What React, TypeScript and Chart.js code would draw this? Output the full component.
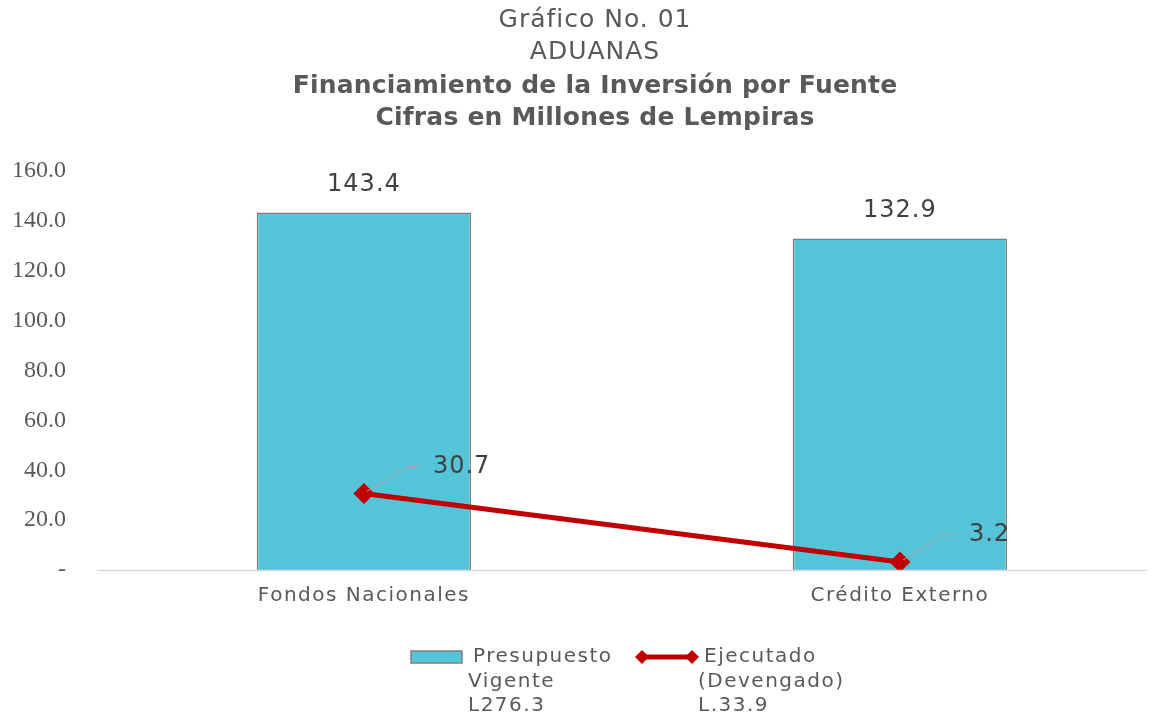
import React, { useEffect, useRef } from "react";
import { Chart, registerables } from "chart.js";

Chart.register(...registerables);

const categories = ["Fondos Nacionales", "Crédito Externo"];
const presupuesto = [143.4, 132.9];
const ejecutado = [30.7, 3.2];
const yTicks = [0, 20, 40, 60, 80, 100, 120, 140, 160];
const titleLines = [
  "Gráfico No. 01",
  "ADUANAS",
  "Financiamiento de la Inversión por Fuente",
  "Cifras en Millones de Lempiras",
];
const legendBar = ["Presupuesto", "Vigente", "L276.3"];
const legendLine = ["Ejecutado", "(Devengado)", "L.33.9"];

const FONT = "'DejaVu Sans', sans-serif";
const GRAY = "#595959";
const DARK = "#404040";
const CYAN = "#56C4D8";
const RED = "#C00000";

const overlay = {
  id: "overlay",
  afterDraw(chart: any) {
    const ctx = chart.ctx;
    const xs = chart.scales.x;
    const ys = chart.scales.y;
    ctx.save();
    // title
    ctx.fillStyle = GRAY;
    ctx.textAlign = "center";
    ctx.textBaseline = "middle";
    const ty = [20, 52, 86, 118];
    titleLines.forEach((t, i) => {
      ctx.font = (i >= 2 ? "bold " : "") + "25px " + FONT;
      ctx.letterSpacing = i >= 2 ? "0.2px" : "1px";
      ctx.fillText(t, 595, ty[i]);
    });
    // baseline
    ctx.strokeStyle = "#D9D9D9";
    ctx.lineWidth = 1.5;
    ctx.beginPath();
    ctx.moveTo(chart.chartArea.left, ys.getPixelForValue(0) + 0.5);
    ctx.lineTo(chart.chartArea.right, ys.getPixelForValue(0) + 0.5);
    ctx.stroke();
    // category labels
    ctx.fillStyle = GRAY;
    ctx.font = "20px " + FONT;
    ctx.letterSpacing = "1.5px";
    categories.forEach((c, i) => {
      ctx.fillText(c, xs.getPixelForValue(i), 596);
    });
    // bar labels
    ctx.fillStyle = DARK;
    ctx.font = "24px " + FONT;
    ctx.letterSpacing = "1px";
    presupuesto.forEach((v, i) => {
      ctx.fillText(v.toFixed(1), xs.getPixelForValue(i), ys.getPixelForValue(v) - 28);
    });
    // line labels with leader lines
    ejecutado.forEach((v, i) => {
      const px = xs.getPixelForValue(i);
      const py = ys.getPixelForValue(v);
      ctx.strokeStyle = "#A6A6A6";
      ctx.lineWidth = 1;
      ctx.beginPath();
      ctx.moveTo(px + 3, py - 2);
      ctx.lineTo(px + 44, py - 27);
      ctx.lineTo(px + 55, py - 27);
      ctx.stroke();
      ctx.fillStyle = DARK;
      ctx.textAlign = "left";
      ctx.fillText(v.toFixed(1), px + 69, py - 27);
    });
    // legend
    ctx.font = "20px " + FONT;
    ctx.letterSpacing = "1.5px";
    ctx.fillStyle = CYAN;
    ctx.fillRect(411, 651, 51, 12);
    ctx.strokeStyle = "#7F7F7F";
    ctx.lineWidth = 1.5;
    ctx.strokeRect(411, 651, 51, 12);
    ctx.fillStyle = GRAY;
    ctx.textAlign = "left";
    ctx.fillText(legendBar[0], 473, 657);
    ctx.fillText(legendBar[1], 468, 682);
    ctx.fillText(legendBar[2], 468, 706);
    ctx.strokeStyle = RED;
    ctx.lineWidth = 5;
    ctx.beginPath();
    ctx.moveTo(642, 657);
    ctx.lineTo(692, 657);
    ctx.stroke();
    ctx.fillStyle = RED;
    [642, 692].forEach((cx) => {
      ctx.beginPath();
      ctx.moveTo(cx - 7, 657);
      ctx.lineTo(cx, 650);
      ctx.lineTo(cx + 7, 657);
      ctx.lineTo(cx, 664);
      ctx.closePath();
      ctx.fill();
    });
    ctx.fillStyle = GRAY;
    ctx.fillText(legendLine[0], 704, 657);
    ctx.fillText(legendLine[1], 698, 682);
    ctx.fillText(legendLine[2], 698, 706);
    ctx.letterSpacing = "0px";
    ctx.restore();
  },
};

export default function App() {
  const ref = useRef<HTMLCanvasElement>(null);
  useEffect(() => {
    if (!ref.current) return;
    const chart = new Chart(ref.current, {
      type: "bar",
      data: {
        datasets: [
          {
            type: "bar",
            label: "Presupuesto Vigente",
            data: presupuesto.map((v, i) => ({ x: i, y: v })),
            backgroundColor: CYAN,
            borderColor: "#7F7F7F",
            borderWidth: 1.5,
            barPercentage: 0.4,
            categoryPercentage: 1,
            order: 2,
          },
          {
            type: "line",
            label: "Ejecutado (Devengado)",
            data: ejecutado.map((v, i) => ({ x: i, y: v })),
            borderColor: RED,
            backgroundColor: RED,
            borderWidth: 5,
            pointStyle: "rectRot",
            pointRadius: 7,
            pointHoverRadius: 7,
            order: 1,
          },
        ],
      } as any,
      options: {
        animation: false,
        responsive: false,
        maintainAspectRatio: false,
        layout: { padding: { top: 171, right: 14, bottom: 0, left: 0 } },
        plugins: { legend: { display: false }, title: { display: false }, tooltip: { enabled: false } },
        scales: {
          x: {
            type: "linear",
            offset: false,
            bounds: "data",
            min: -0.498,
            max: 1.461,
            grid: { display: false, drawTicks: false },
            border: { display: false },
            afterBuildTicks: (s: any) => {
              s.ticks = categories.map((_, i) => ({ value: i }));
            },
            ticks: { display: false },
            afterFit: (s: any) => {
              s.height = 147;
            },
          },
          y: {
            min: 0,
            max: 160,
            afterBuildTicks: (s: any) => {
              s.ticks = yTicks.map((v) => ({ value: v }));
            },
            grid: { display: false, drawTicks: false },
            border: { display: false },
            ticks: {
              callback: (v: any) => (v === 0 ? "-" : Number(v).toFixed(1)),
              color: GRAY,
              font: { family: "'Liberation Serif', 'DejaVu Serif', serif", size: 24 },
              padding: 31,
            },
            afterFit: (s: any) => {
              s.width = 97;
            },
          },
        },
      } as any,
      plugins: [overlay],
    });
    return () => chart.destroy();
  }, []);
  return (
    <div style={{ position: "absolute", left: 0, top: 0, width: 1161, height: 717, background: "#fff" }}>
      <canvas ref={ref} width={1161} height={717} style={{ width: 1161, height: 717 }} />
    </div>
  );
}
